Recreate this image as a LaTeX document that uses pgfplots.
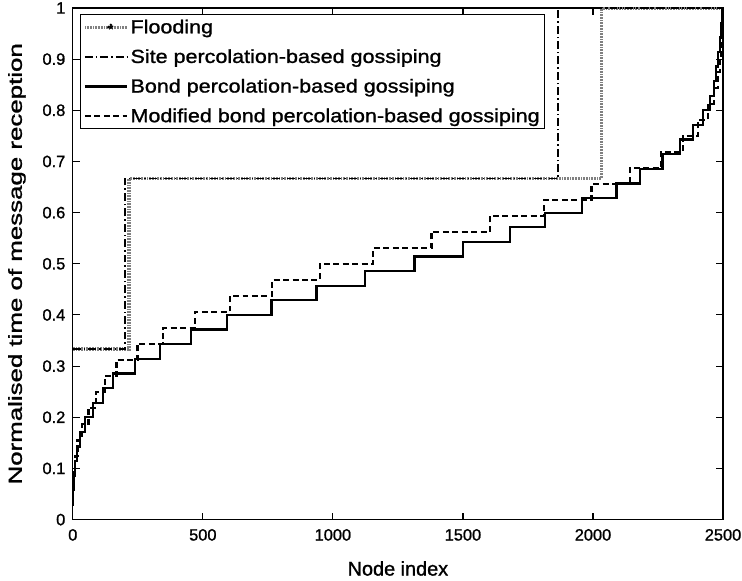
\documentclass[border=0pt]{standalone}
\usepackage{fontspec}
\setmainfont{Liberation Sans}[FakeBold=1.2]
\newfontfamily\legfont{Liberation Sans}[FakeStretch=1.14,FakeBold=1.2]
\usepackage{pgfplots}
\pgfplotsset{compat=1.18}
\begin{document}
\begin{tikzpicture}[x=1bp,y=1bp]
\begin{axis}[
  at={(0,0)}, anchor=south west,
  scale only axis,
  width=652bp, height=513bp,
  xmin=0, xmax=2500, ymin=0, ymax=1,
  xtick={0,500,...,2500},
  ytick={0,0.1,...,1.0},
  yticklabels={0,0.1,0.2,0.3,0.4,0.5,0.6,0.7,0.8,0.9,1},
  tick align=inside,
  major tick length=7bp,
  axis line style={line width=1.3pt},
  every tick/.style={black, line width=1.1pt},
  /pgf/number format/assume math mode=true,
  /pgf/number format/1000 sep={},
  tick label style={font=\fontsize{16.5}{19}\selectfont},
  xticklabel style={yshift=-6bp},
  yticklabel style={xshift=-4bp},
  xlabel={\fontsize{20}{22}\selectfont Node index},
  ylabel={\fontsize{19}{21}\selectfont\scalebox{1.37}[1]{Normalised time of message reception}},
  xlabel style={at={(axis description cs:0.5,0)}, anchor=center, yshift=-49bp},
  ylabel style={at={(axis description cs:0,0.5)}, anchor=center, yshift=56bp},
  legend style={at={(rel axis cs:0.0107,0.988)}, anchor=north west,
    draw=black, line width=1.1pt, font=\legfont\fontsize{19}{21}\selectfont,
    inner xsep=3bp, inner ysep=3bp, row sep=10.5bp,
    /tikz/every even column/.append style={column sep=4bp}},
  legend cell align=left,
  legend image code/.code={\draw[#1] (4bp,0bp) -- (46bp,0bp);},
]
\addplot[const plot, color=black!50, line width=3.4pt, dash pattern=on 0.8pt off 0.8pt,
  legend image code/.code={\draw[color=black!50, line width=3.4pt, dash pattern=on 0.8pt off 0.8pt] (4bp,0bp) -- (46bp,0bp); \fill[black] (30bp,0bp) circle (1.4bp);}]
  coordinates {(0,0.3333) (216,0.6667) (2032,1) (2500,1)};
\addlegendentry{Flooding}
\addplot[const plot, black, line width=1.8pt, dash pattern=on 8pt off 3pt on 1.5pt off 3pt]
  coordinates {(0,0.3333) (200,0.6667) (1866,1) (2500,1)};
\addlegendentry{Site percolation-based gossiping}
\addplot[const plot, black, line width=2.2pt]
  coordinates {
(0,0.0286) (1,0.0571) (3,0.0857) (8,0.1143) (15,0.1429) (27,0.1714) (46,0.2)
(78,0.2286) (116,0.2571) (155,0.2857) (238,0.3143) (334,0.3429) (454,0.3714)
(593,0.4) (764,0.4286) (937,0.4571) (1123,0.4857) (1314,0.5143) (1500,0.5429)
(1680,0.5714) (1815,0.6) (1959,0.6286) (2090,0.6571) (2182,0.6857) (2267,0.7143)
(2334,0.7429) (2385,0.7714) (2423,0.8) (2449,0.8286) (2464,0.8571) (2474,0.8857)
(2482,0.9143) (2488,0.9429) (2493,0.9714) (2497,1) (2500,1)};
\addlegendentry{Bond percolation-based gossiping}
\addplot[const plot, black, line width=2.2pt, dash pattern=on 6pt off 3.5pt]
  coordinates {
(0,0.03125) (1,0.0625) (3,0.09375) (8,0.125) (18,0.15625) (35,0.1875) (60,0.21875)
(90,0.25) (125,0.28125) (168,0.3125) (249,0.34375) (347,0.375) (469,0.40625)
(604,0.4375) (766,0.46875) (950,0.5) (1155,0.53125) (1379,0.5625) (1604,0.59375)
(1813,0.625) (1994,0.65625) (2141,0.6875) (2262,0.71875) (2346,0.75) (2404,0.78125)
(2442,0.8125) (2464,0.84375) (2480,0.875) (2488,0.90625) (2493,0.9375) (2496,0.96875)
(2498,1) (2500,1)};
\addlegendentry{Modified bond percolation-based gossiping}
\end{axis}
\pgfresetboundingbox
\path[use as bounding box] (-73bp,-61bp) rectangle (671bp,521bp);
\end{tikzpicture}
\end{document}
